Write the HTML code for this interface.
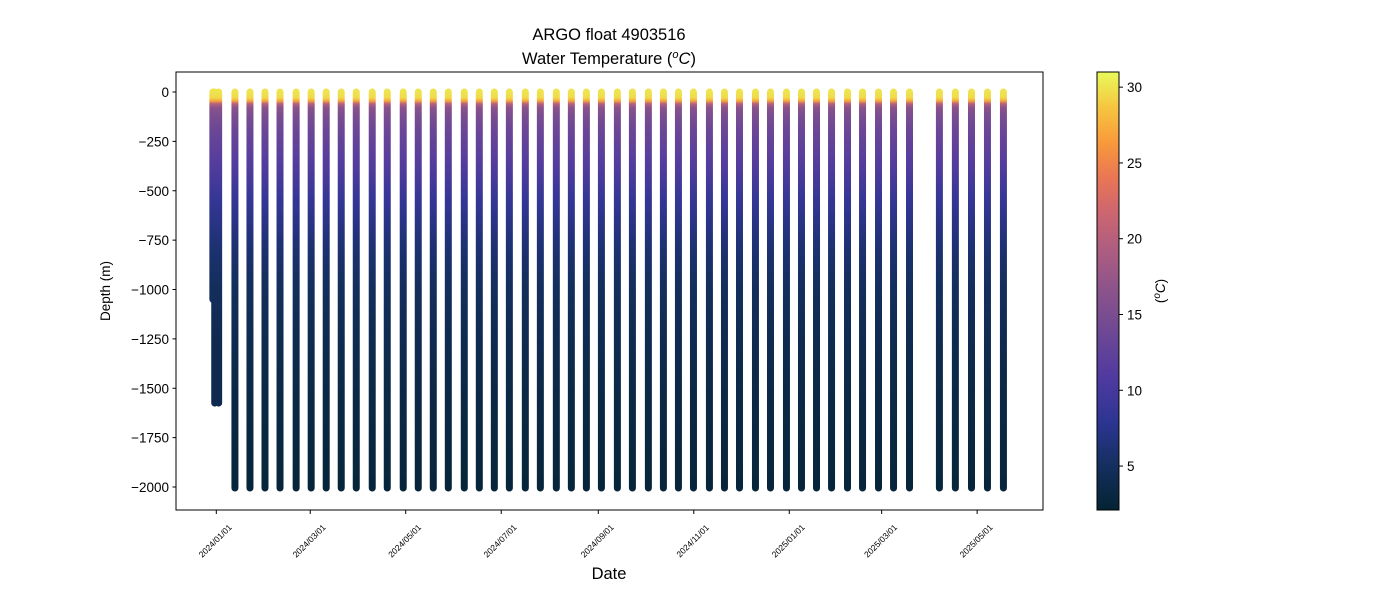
<!DOCTYPE html>
<html><head><meta charset="utf-8"><style>
body{margin:0;background:#fff;}
svg{display:block;font-family:"Liberation Sans","DejaVu Sans",sans-serif;}
</style></head><body>
<svg id="chart" width="1400" height="600" viewBox="0 0 1400 600">
<defs id="defs"></defs>
<g id="profiles"></g>
<rect x="176" y="72" width="867" height="438" fill="none" stroke="#000" stroke-width="1"/>
<g id="yaxis"></g>
<g id="xaxis"></g>
<text x="609" y="40" text-anchor="middle" font-size="16.5">ARGO float 4903516</text>
<text x="609" y="64" text-anchor="middle" font-size="16.5">Water Temperature (<tspan font-style="italic" font-size="11" dy="-6">o</tspan><tspan font-style="italic" dy="6">C</tspan>)</text>
<text x="609" y="579" text-anchor="middle" font-size="16.5">Date</text>
<text transform="translate(110,291) rotate(-90)" text-anchor="middle" font-size="13.5">Depth (m)</text>
<g id="cbar"></g>
<text transform="translate(1165,291) rotate(-90)" text-anchor="middle" font-size="13.5">(<tspan font-style="italic" font-size="10" dy="-5">o</tspan><tspan font-style="italic" dy="5">C</tspan>)</text>
</svg>
<script>
// ---- data ----
const profileDays = [-2.2,-1,1.5,11.9,21.5,31.1,40.7,51.0,60.6,70.2,79.8,89.4,99.6,109.2,119.4,129.0,138.6,148.2,158.4,168.0,177.6,187.2,197.4,207.0,217.2,226.8,236.4,246.0,256.2,265.8,276.0,285.6,295.2,304.8,315.0,324.6,334.2,344.4,354.0,364.2,373.8,383.4,393.0,403.2,412.8,423.0,432.6,442.8,461.9,472.1,482.4,492.6,502.8];
const profileMaxDepth = [1050,1575,1575,2005,2005,2005,2005,2005,2005,2005,2005,2005,2005,2005,2005,2005,2005,2005,2005,2005,2005,2005,2005,2005,2005,2005,2005,2005,2005,2005,2005,2005,2005,2005,2005,2005,2005,2005,2005,2005,2005,2005,2005,2005,2005,2005,2005,2005,2005,2005,2005,2005,2005];
const refDepths = [0,30,45,60,80,120,200,350,550,800,1000,1300,1600,2000];
const refTemps = [30,29.5,27,20,16.5,15,13.5,11.5,8.5,6,4.8,3.9,3.2,2.6];
const yTicks = [0,-250,-500,-750,-1000,-1250,-1500,-1750,-2000];
const xTickLabels = ["2024/01/01","2024/03/01","2024/05/01","2024/07/01","2024/09/01","2024/11/01","2025/01/01","2025/03/01","2025/05/01"];
const xTickDays = [0,60,121,182,244,305,366,425,486];
const cbTicks = [5,10,15,20,25,30];

// ---- scales ----
const NS="http://www.w3.org/2000/svg";
const xS = d => 216.3 + d*1.5655;
const yS = v => 92 + (-v)*0.1975;
const tMin=2.1, tMax=31.0;
const cbY = t => 510 - (t-tMin)/(tMax-tMin)*438;
const cmap = [[0,"#042333"],[0.1,"#142f5e"],[0.2,"#2c3592"],[0.3,"#4f3aa0"],[0.4,"#6c4795"],[0.5,"#8b538b"],[0.6,"#b05e80"],[0.68,"#cd666f"],[0.76,"#ea7654"],[0.84,"#f89a3b"],[0.92,"#f6c640"],[1,"#e8fa5b"]];
function hex(h){return [1,3,5].map(i=>parseInt(h.substr(i,2),16));}
function color(t){let f=Math.max(0,Math.min(1,(t-tMin)/(tMax-tMin)));
 for(let i=1;i<cmap.length;i++){if(f<=cmap[i][0]){const a=cmap[i-1],b=cmap[i];const u=(f-a[0])/(b[0]-a[0]);const c1=hex(a[1]),c2=hex(b[1]);return "rgb("+c1.map((c,k)=>Math.round(c+(c2[k]-c)*u)).join(",")+")";}}
 return cmap[cmap.length-1][1];}
function mk(tag,attrs,parent){const e=document.createElementNS(NS,tag);for(const k in attrs)e.setAttribute(k,attrs[k]);parent.appendChild(e);return e;}
const defs=document.getElementById('defs');

const pg=document.getElementById('profiles');
profileDays.forEach((d,i)=>{
 const md=profileMaxDepth[i];
 const g=mk('linearGradient',{id:'pg'+i,gradientUnits:'userSpaceOnUse',x1:0,x2:0,y1:yS(0),y2:yS(-md)},defs);
 refDepths.forEach((z,j)=>{ if(z<=md) mk('stop',{offset:(z/md).toFixed(4),'stop-color':color(refTemps[j])},g); });
 const line=mk('line',{x1:xS(d),x2:xS(d),y1:yS(0),y2:yS(-md),stroke:'url(#pg'+i+')','stroke-width':7,'stroke-linecap':'round'},pg);
 
 
});

const ya=document.getElementById('yaxis');
yTicks.forEach(v=>{
 const y=yS(v);
 mk('line',{x1:172.5,x2:176,y1:y,y2:y,stroke:'#000'},ya);
 const t=mk('text',{x:169,y:y+5,'text-anchor':'end','font-size':13.5},ya);
 t.textContent=v<0?'\u2212'+(-v):String(v);
 
 
});
const xa=document.getElementById('xaxis');
xTickLabels.forEach((lab,i)=>{
 const x=xS(xTickDays[i]);
 mk('line',{x1:x,x2:x,y1:510,y2:514,stroke:'#000'},xa);
 const t=mk('text',{transform:'translate('+(x+1)+',543) rotate(-45)','text-anchor':'middle','font-size':8.5},xa);
 t.textContent=lab;
 
 
});
const cb=document.getElementById('cbar');
const cg=mk('linearGradient',{id:'cbg',x1:0,x2:0,y1:1,y2:0},defs);
cmap.forEach(s=>mk('stop',{offset:s[0],'stop-color':s[1]},cg));
mk('rect',{x:1097,y:72,width:22,height:438,fill:'url(#cbg)',stroke:'#000','stroke-width':1},cb);
cbTicks.forEach(v=>{
 const y=cbY(v);
 mk('line',{x1:1119,x2:1123,y1:y,y2:y,stroke:'#000'},cb);
 const t=mk('text',{x:1127,y:y+5,'font-size':13.5},cb);
 t.textContent=String(v);
 
 
});
</script>
</body></html>
